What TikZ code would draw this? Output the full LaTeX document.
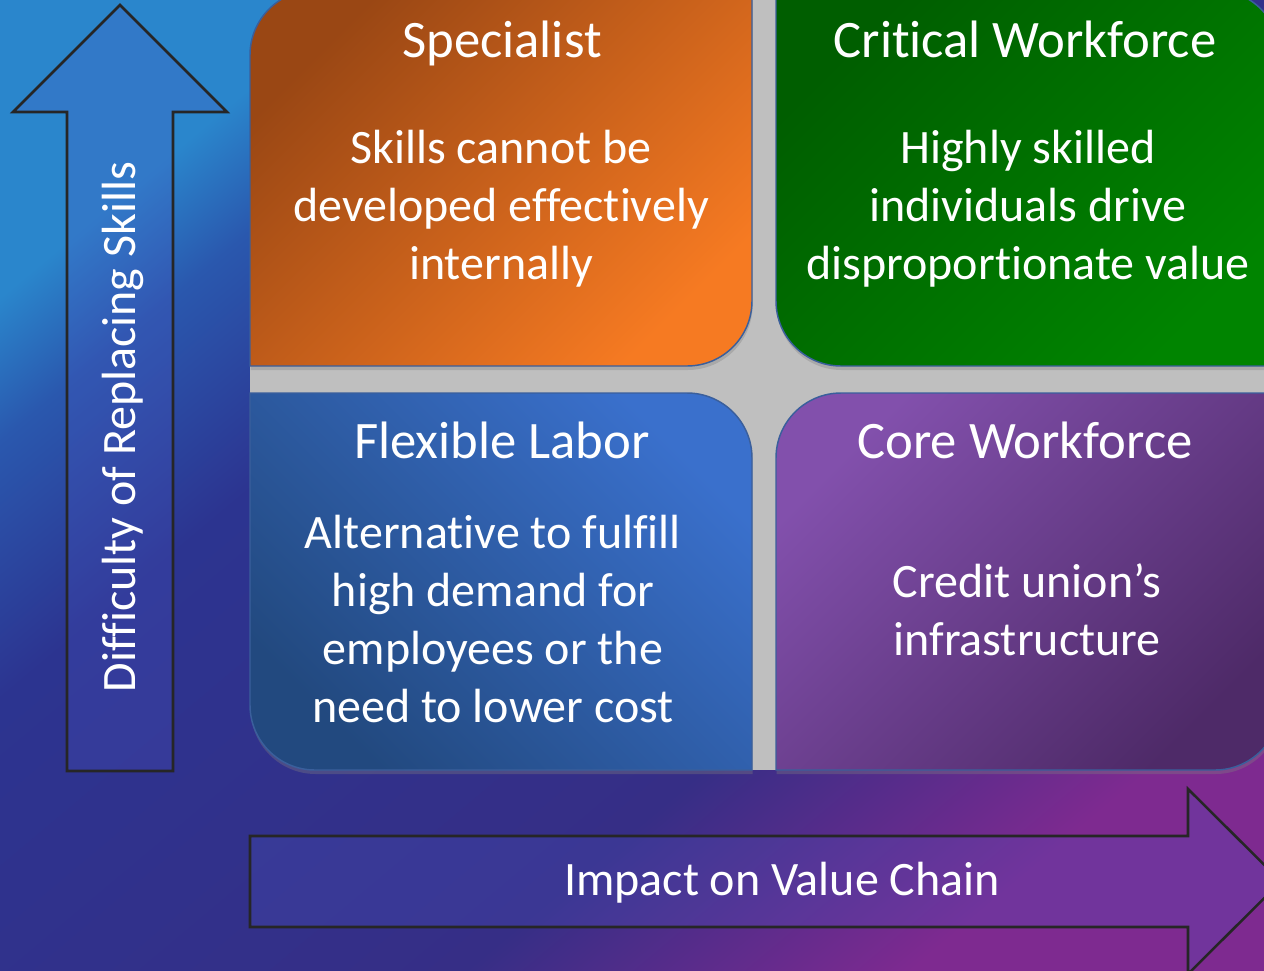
\documentclass[tikz,border=0pt]{standalone}
\usepackage{fontspec}
\setmainfont{Carlito}[Ligatures={TeX,NoCommon}]
\usepackage{tikz}
\usetikzlibrary{shadows}
\definecolor{BackBlue}{HTML}{2A86CC}
\definecolor{BackMid}{HTML}{2A58AE}
\definecolor{BackNavy}{HTML}{2C3490}
\definecolor{BackIndigo}{HTML}{362E86}
\definecolor{BackPurple}{HTML}{7E2A90}
\definecolor{OrangeDark}{HTML}{9A4714}
\definecolor{OrangeLight}{HTML}{F67A22}
\definecolor{GreenDark}{HTML}{005E00}
\definecolor{GreenLight}{HTML}{008400}
\definecolor{BlueDark}{HTML}{22497F}
\definecolor{BlueLight}{HTML}{3A70CC}
\definecolor{PurpleLight}{HTML}{8250AC}
\definecolor{PurpleDark}{HTML}{4E2A68}
\definecolor{EdgeBlue}{HTML}{3A5F9C}
\definecolor{CrossGrey}{HTML}{BFBFBF}
\definecolor{ArrowTint}{HTML}{4B55C0}
\definecolor{ArrowEdge}{HTML}{262626}
\pgfdeclarehorizontalshading{backdrop}{100bp}{color(0bp)=(BackBlue); color(25bp)=(BackBlue); color(30bp)=(BackMid); color(39bp)=(BackNavy); color(62bp)=(BackIndigo); color(75bp)=(BackPurple); color(100bp)=(BackPurple)}

\begin{document}
\begin{tikzpicture}[x=0.75pt, y=-0.75pt,
  every node/.style={text=white, inner sep=0pt},
  title/.style={font=\fontsize{39.5}{44}\selectfont, anchor=base},
  body/.style={font=\fontsize{36}{43.5}\selectfont, align=center, anchor=base},
  axislabel/.style={font=\fontsize{36}{43.5}\selectfont, anchor=base},
  quad/.style={draw=EdgeBlue, line width=1.1pt,
    drop shadow={shadow xshift=0.5pt, shadow yshift=-3pt, opacity=0.35}},
  blockarrow/.style={draw=ArrowEdge, line width=1.9pt, line join=miter,
    fill=ArrowTint, fill opacity=0.25}]
  \useasboundingbox (0,0) rectangle (1264,971);
  \clip (0,0) rectangle (1264,971);
  \shade[shading=backdrop, shading angle=-50] (0,0) rectangle (1264,971);

  \fill[CrossGrey] (752,-10) rectangle (776,770);
  \fill[CrossGrey] (250,366) rectangle (1280,393);
  \fill[CrossGrey] (687,301) rectangle (841,458);

  \path[quad, left color=OrangeDark, right color=OrangeLight, shading angle=45]
    (250,366) -- (250,55) arc (180:270:65) -- (752,-10) -- (752,301) arc (0:90:65) -- cycle;
  \path[quad, left color=GreenDark, right color=GreenLight, shading angle=45]
    (776,-10) -- (1215,-10) arc (270:360:65) -- (1280,366) -- (841,366) arc (90:180:65) -- cycle;
  \path[quad, left color=BlueLight, right color=BlueDark, shading angle=-45]
    (250,393) -- (687,393) arc (270:360:65) -- (752,770) -- (315,770) arc (90:180:65) -- cycle;
  \path[quad, left color=PurpleLight, right color=PurpleDark, shading angle=45]
    (776,770) -- (776,458) arc (180:270:65) -- (1280,393) -- (1280,705) arc (0:90:65) -- cycle;

  \node[title] (spec-title) at (502,57) {Specialist};
  \node[body] (spec-body) at (501,279) {Skills cannot be\\developed effectively\\internally};
  \node[title] (crit-title) at (1025,57) {Critical Workforce};
  \node[body] (crit-body) at (1028,279) {Highly skilled\\individuals drive\\disproportionate value};
  \node[title] (flex-title) at (502,458) {Flexible Labor};
  \node[body] (flex-body) at (493,722) {Alternative to fulfill\\high demand for\\employees or the\\need to lower cost};
  \node[title] (core-title) at (1025,458) {Core Workforce};
  \node[body] (core-body) at (1027,655) {Credit union’s\\infrastructure};

  \path[blockarrow] (120,5) -- (227,112) -- (173,112) -- (173,771) -- (67,771) -- (67,112) -- (13,112) -- cycle;
  \path[blockarrow] (250,836) -- (1188,836) -- (1188,789) -- (1281,881.5) -- (1188,974) -- (1188,927) -- (250,927) -- cycle;
  \node[axislabel, rotate=90] (difficulty) at (135,427) {Difficulty of Replacing Skills};
  \node[axislabel] (impact) at (782,895) {Impact on Value Chain};
\end{tikzpicture}
\end{document}
